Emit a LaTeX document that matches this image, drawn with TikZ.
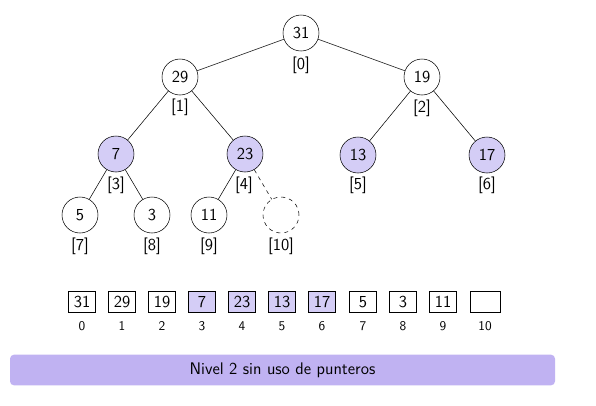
\documentclass[tikz,border=0pt]{standalone}
\usepackage{xcolor}
\definecolor{lav}{HTML}{D4CDF6}
\definecolor{bar}{HTML}{C0B2F2}
\begin{document}
\begin{tikzpicture}[x=0.75pt,y=-0.75pt,font=\sffamily\fontsize{12.6}{15}\selectfont,
  hnode/.style={circle,draw,minimum size=27pt,inner sep=0pt},
  hfill/.style={hnode,fill=lav},
  hempty/.style={hnode,dashed},
  idx/.style={inner sep=0pt},
  cell/.style={draw,minimum width=20.5pt,minimum height=15.5pt,inner sep=0pt},
  cfill/.style={cell,fill=lav},
  aidx/.style={font=\sffamily\fontsize{10}{12}\selectfont,inner sep=0pt},
  edge/.style={draw,black}]
\useasboundingbox (0,0) rectangle (596,405);
% tree nodes
\node[hnode] (n0) at (301,33) {31};
\node[hnode] (n1) at (180,77) {29};
\node[hnode] (n2) at (422,77) {19};
\node[hfill] (n3) at (116,154) {7};
\node[hfill] (n4) at (245,154) {23};
\node[hfill] (n5) at (358,155) {13};
\node[hfill] (n6) at (487,155) {17};
\node[hnode] (n7) at (80,215) {5};
\node[hnode] (n8) at (152,215) {3};
\node[hnode] (n9) at (209,215) {11};
\node[hempty] (n10) at (281,215) {};
% index labels
\node[idx] (l0) at (301,65) {[0]};
\node[idx] (l1) at (180,107) {[1]};
\node[idx] (l2) at (422,108) {[2]};
\node[idx] (l3) at (116,185) {[3]};
\node[idx] (l4) at (244,185) {[4]};
\node[idx] (l5) at (358,185) {[5]};
\node[idx] (l6) at (487,185) {[6]};
\node[idx] (l7) at (80,246) {[7]};
\node[idx] (l8) at (152,246) {[8]};
\node[idx] (l9) at (209,246) {[9]};
\node[idx] (l10) at (281,246) {[10]};
% edges
\draw[edge] (n0) -- (n1);
\draw[edge] (n0) -- (n2);
\draw[edge] (n1) -- (n3);
\draw[edge] (n1) -- (n4);
\draw[edge] (n2) -- (n5);
\draw[edge] (n2) -- (n6);
\draw[edge] (n3) -- (n7);
\draw[edge] (n3) -- (n8);
\draw[edge] (n4) -- (n9);
\draw[edge,dashed] (n4) -- (n10);
% array
\node[cell]  (a0)  at (82,302) {31};
\node[cell]  (a1)  at (122,302) {29};
\node[cell]  (a2)  at (162,302) {19};
\node[cfill] (a3)  at (202,302) {7};
\node[cfill] (a4)  at (242,302) {23};
\node[cfill] (a5)  at (282,302) {13};
\node[cfill] (a6)  at (322,302) {17};
\node[cell]  (a7)  at (363,302) {5};
\node[cell]  (a8)  at (403,302) {3};
\node[cell]  (a9)  at (443,302) {11};
\node[cell,minimum width=22.5pt] (a10) at (485,302) {};
\node[aidx] (i0)  at (82,326) {0};
\node[aidx] (i1)  at (122,326) {1};
\node[aidx] (i2)  at (162,326) {2};
\node[aidx] (i3)  at (202,326) {3};
\node[aidx] (i4)  at (242,326) {4};
\node[aidx] (i5)  at (282,326) {5};
\node[aidx] (i6)  at (322,326) {6};
\node[aidx] (i7)  at (363,326) {7};
\node[aidx] (i8)  at (403,326) {8};
\node[aidx] (i9)  at (443,326) {9};
\node[aidx] (i10) at (485,326) {10};
% bar
\node[fill=bar,rounded corners=3pt,minimum width=408.75pt,minimum height=23pt,inner sep=0pt] (bar) at (282.5,370) {Nivel 2 sin uso de punteros};
\end{tikzpicture}
\end{document}
